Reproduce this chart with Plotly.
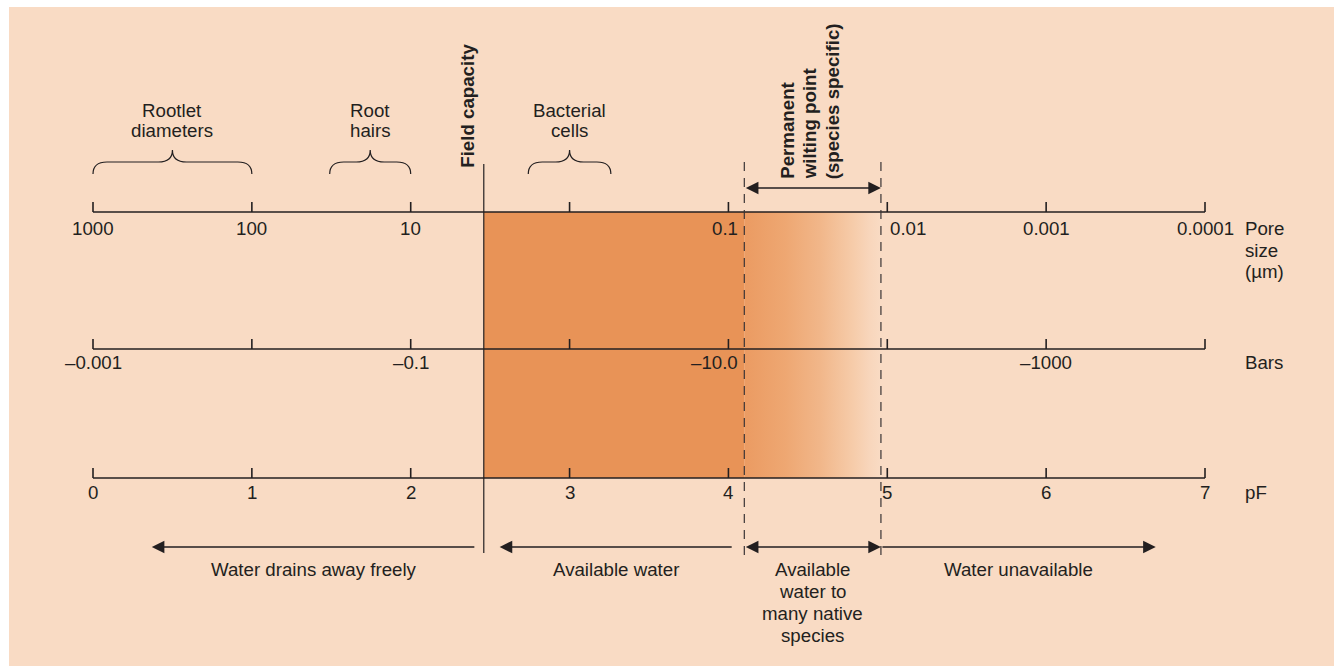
import plotly.graph_objects as go

# ---------------- data ----------------
pf_ticks = [0, 1, 2, 3, 4, 5, 6, 7]
pf_labels = ["0", "1", "2", "3", "4", "5", "6", "7"]
pore_labels = ["1000", "100", "10", "", "0.1", "0.01", "0.001", "0.0001"]
bars_labels = ["–0.001", "", "–0.1", "", "–10.0", "", "–1000", ""]

field_capacity_pf = 2.46
wilting_start_pf = 4.1
wilting_end_pf = 4.96

brace_labels = [["Rootlet", "diameters"], ["Root", "hairs"], ["Bacterial", "cells"]]
brace_start_pf = [0.0, 1.49, 2.74]
brace_end_pf = [1.0, 2.0, 3.26]

zone_labels = [["Water drains away freely"], ["Available water"],
               ["Available", "water to", "many native", "species"], ["Water unavailable"]]
zone_tail_pf = [2.41, 4.03, wilting_start_pf, wilting_end_pf]
zone_head_pf = [0.37, 2.56, wilting_end_pf, 6.69]
zone_double = [False, False, True, False]

# ---------------- styling / layout ----------------
W, H = 1334, 666
LEFT_WHITE, TOP_WHITE = 9, 7
PX0 = 93.0            # page pixel of pF 0
PXU = 1112.0 / 7.0    # pixels per pF unit
BG = "#F9DBC4"
ORANGE = "#E89357"
INK = "#231F20"
FONT = "Liberation Sans, Arial, Helvetica, sans-serif"
FS = 18.7


def dpx(px):
    return px / PXU


Y_PORE, Y_BARS, Y_PF = 212, 349, 478
TICK = 10

fig = go.Figure()
shapes = []
annos = []


def text(x, y, s, xanchor="center", yanchor="middle", bold=False, angle=0, size=FS):
    annos.append(dict(x=x, y=y, xref="x", yref="y", text=("<b>%s</b>" % s) if bold else s,
                      showarrow=False, xanchor=xanchor, yanchor=yanchor, textangle=angle,
                      font=dict(family=FONT, size=size, color=INK)))


# white frame strips at the left and top of the page
PW, PH = W - LEFT_WHITE, H - TOP_WHITE
shapes.append(dict(type="rect", xref="paper", yref="paper", x0=-LEFT_WHITE / PW - 0.01, x1=0,
                   y0=-0.05, y1=1 + TOP_WHITE / PH + 0.05, fillcolor="white",
                   line=dict(width=0), layer="below"))
shapes.append(dict(type="rect", xref="paper", yref="paper", x0=-0.05, x1=1.05,
                   y0=1, y1=1 + TOP_WHITE / PH + 0.05, fillcolor="white",
                   line=dict(width=0), layer="below"))

# orange available-water block
shapes.append(dict(type="rect", xref="x", yref="y", x0=field_capacity_pf, x1=wilting_start_pf,
                   y0=Y_PORE, y1=Y_PF, fillcolor=ORANGE, line=dict(width=0), layer="below"))

# gradient block (permanent wilting zone)
fig.add_trace(go.Scatter(
    x=[wilting_start_pf, wilting_end_pf, wilting_end_pf, wilting_start_pf, wilting_start_pf],
    y=[Y_PORE, Y_PORE, Y_PF, Y_PF, Y_PORE],
    mode="lines", line=dict(width=0), fill="toself",
    fillgradient=dict(type="horizontal",
                      colorscale=[[0, "#EB9B62"], [0.3, "#EEA772"], [0.55, "#F1B689"],
                                  [0.8, "#F6CCAA"], [0.92, "#F8D6BC"], [1, BG]]),
    hoverinfo="skip", showlegend=False))

# the three axes
for yl in (Y_PORE, Y_BARS, Y_PF):
    shapes.append(dict(type="line", xref="x", yref="y", x0=pf_ticks[0], x1=pf_ticks[-1],
                       y0=yl, y1=yl, line=dict(color=INK, width=1.6)))
    for t in pf_ticks:
        shapes.append(dict(type="line", xref="x", yref="y", x0=t, x1=t, y0=yl, y1=yl - TICK,
                           line=dict(color=INK, width=1.6)))

# tick labels
for t, lab in zip(pf_ticks, pore_labels):
    if not lab:
        continue
    if t == 4:
        text(t + dpx(12), 228, lab, xanchor="right")
    elif t == 5:
        text(t + dpx(1), 228, lab, xanchor="left")
    else:
        text(t, 228, lab)
for t, lab in zip(pf_ticks, bars_labels):
    if not lab:
        continue
    if t == 4:
        text(t + dpx(12), 362, lab, xanchor="right")
    else:
        text(t, 362, lab)
for t, lab in zip(pf_ticks, pf_labels):
    text(t, 492, lab)

# axis titles
TX = pf_ticks[-1] + dpx(38)
text(TX, 228, "Pore", xanchor="left")
text(TX, 250, "size", xanchor="left")
text(TX, 271, "(µm)", xanchor="left")
text(TX, 362, "Bars", xanchor="left")
text(TX, 492, "pF", xanchor="left")

# field capacity line & wilting dashed lines
shapes.append(dict(type="line", xref="x", yref="y", x0=field_capacity_pf, x1=field_capacity_pf,
                   y0=164, y1=553, line=dict(color=INK, width=1.2)))
for xv in (wilting_start_pf, wilting_end_pf):
    shapes.append(dict(type="line", xref="x", yref="y", x0=xv, x1=xv, y0=162, y1=555,
                       line=dict(color="#3A3435", width=1.2, dash="9px,7px")))

text(field_capacity_pf - dpx(17), 170, "Field capacity", yanchor="bottom", bold=True, angle=-90)

# permanent wilting point label + double arrow
for i, s in enumerate(["Permanent", "wilting point", "(species specific)"]):
    text(wilting_start_pf + dpx(43 + 22.5 * i), 181, s, yanchor="bottom", bold=True, angle=-90)
annos.append(dict(x=wilting_end_pf, y=188, ax=wilting_start_pf, ay=188, xref="x", yref="y",
                  axref="x", ayref="y", text="", showarrow=True, arrowhead=2, startarrowhead=2,
                  arrowside="end+start", arrowsize=1.8, startarrowsize=1.8, arrowwidth=1.4,
                  arrowcolor=INK, standoff=0, startstandoff=0))

# braces with labels
for x0, x1, labs in zip(brace_start_pf, brace_end_pf, brace_labels):
    xc = (x0 + x1) / 2
    r = dpx(14)
    ye, ym, yt = 174, 162, 150
    path = (f"M {x0},{ye} Q {x0},{ym} {x0 + r},{ym} L {xc - r},{ym} "
            f"Q {xc},{ym} {xc},{yt} Q {xc},{ym} {xc + r},{ym} "
            f"L {x1 - r},{ym} Q {x1},{ym} {x1},{ye}")
    shapes.append(dict(type="path", xref="x", yref="y", path=path,
                       line=dict(color=INK, width=1.2)))
    for i, s in enumerate(labs):
        text(xc, 110 + 20 * i, s)

# bottom zone arrows and labels
for tail, head, dbl, labs in zip(zone_tail_pf, zone_head_pf, zone_double, zone_labels):
    a = dict(x=head, y=547, ax=tail, ay=547, xref="x", yref="y", axref="x", ayref="y",
             text="", showarrow=True, arrowhead=2, arrowsize=1.8, arrowwidth=1.4,
             arrowcolor=INK, standoff=0, startstandoff=0)
    if dbl:
        a.update(arrowside="end+start", startarrowhead=2, startarrowsize=1.8)
    annos.append(a)
    xc = (tail + head) / 2
    for i, s in enumerate(labs):
        text(xc, 569 + 22 * i, s)

fig.update_layout(
    width=W, height=H,
    margin=dict(l=LEFT_WHITE, r=0, t=TOP_WHITE, b=0, pad=0),
    paper_bgcolor=BG, plot_bgcolor=BG,
    xaxis=dict(range=[(LEFT_WHITE - PX0) / PXU, (W - PX0) / PXU], visible=False,
               fixedrange=True),
    yaxis=dict(range=[H, TOP_WHITE], visible=False, fixedrange=True),
    shapes=shapes, annotations=annos, showlegend=False, hovermode=False,
)

fig.write_html(
    "out.html",
    config={"displayModeBar": False, "staticPlot": True},
    post_script="document.body.style.margin='0';document.documentElement.style.overflow='hidden';",
)
